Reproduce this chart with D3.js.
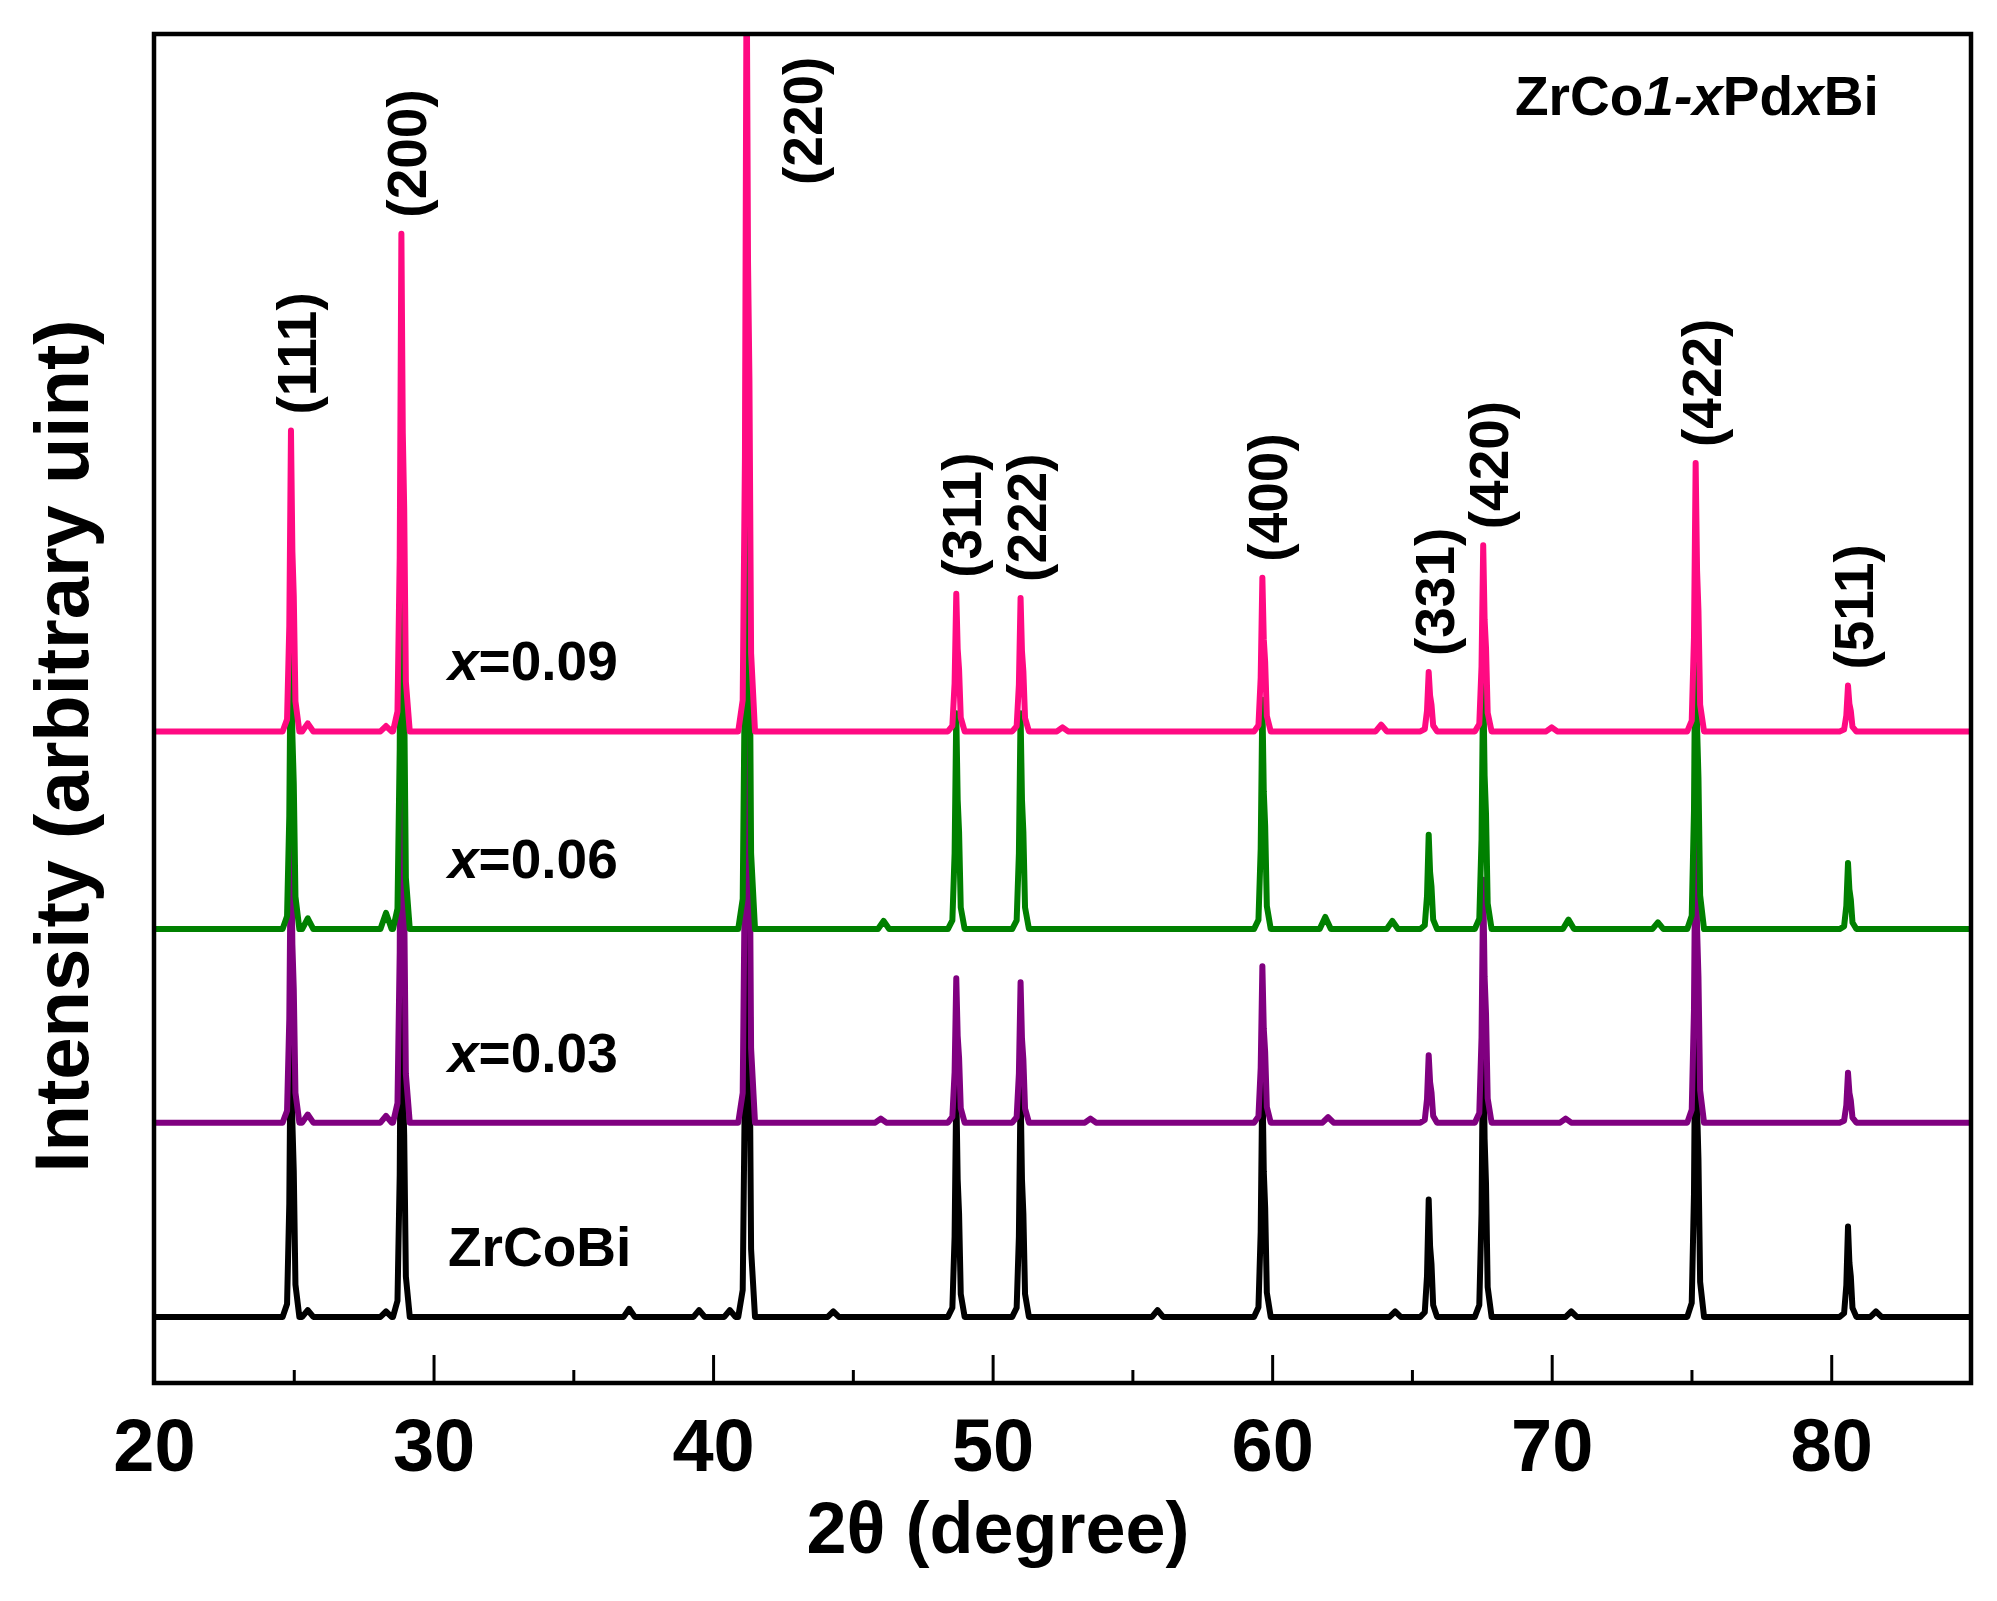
<!DOCTYPE html>
<html>
<head>
<meta charset="utf-8">
<script src="https://cdn.jsdelivr.net/npm/d3@7"></script>
<style>
  body { margin: 0; background: #fff; }
  text { font-family: "Liberation Sans", Arial, Helvetica, sans-serif; font-weight: bold; }
</style>
</head>
<body>
<svg id="chart" width="1997" height="1601"></svg>
<script>
// Reflections and their 2theta positions (degree)
var hklLabels = ["(111)", "(200)", "(220)", "(311)", "(222)", "(400)", "(331)", "(420)", "(422)", "(511)"];
var peakPositions = [24.9, 28.85, 41.2, 48.7, 51.0, 59.65, 65.6, 67.55, 75.15, 80.6];

// Samples, bottom to top
var sampleNames = ["ZrCoBi", "x=0.03", "x=0.06", "x=0.09"];
var sampleColors = ["#000000", "#800080", "#008000", "#ff0a82"];
var sampleOffsets = [4.9, 19.3, 33.65, 48.3];

// peak heights above each baseline (arbitrary units)
var heightsZrCoBi = [24, 30, 50, 17, 17, 18, 8.7, 22, 26, 6.7];
var heightsX003 = [22, 36, 55, 10.7, 10.4, 11.6, 5.0, 18, 24, 3.7];
var heightsX006 = [24, 38, 56, 16, 16, 17, 7.0, 19, 25, 4.9];
var heightsX009 = [22.3, 36.9, 58, 10.2, 9.9, 11.4, 4.4, 13.8, 19.9, 3.4];

// small background bumps [2theta, height]
var bumpsZrCoBi = [[25.5, 0.5], [28.3, 0.4], [37.0, 0.6], [39.5, 0.5], [40.6, 0.5], [44.3, 0.4], [55.9, 0.5], [64.4, 0.4], [70.7, 0.4], [81.6, 0.4]];
var bumpsX003 = [[25.5, 0.6], [28.3, 0.5], [46.0, 0.3], [53.5, 0.3], [62.0, 0.4], [70.5, 0.3]];
var bumpsX006 = [[25.5, 0.8], [28.3, 1.2], [46.1, 0.6], [61.9, 0.9], [64.3, 0.6], [70.6, 0.7], [73.8, 0.5]];
var bumpsX009 = [[25.5, 0.6], [28.3, 0.4], [52.5, 0.3], [63.9, 0.5], [70.0, 0.3]];

var xTicks = [20, 30, 40, 50, 60, 70, 80];
var xMinorTicks = [25, 35, 45, 55, 65, 75];

var sampleHeights = [heightsZrCoBi, heightsX003, heightsX006, heightsX009];
var sampleBumps = [bumpsZrCoBi, bumpsX003, bumpsX006, bumpsX009];

// shape of one reflection, relative to its centre and height (Ka1 + Ka2 shoulder)
var peakShape = [[-0.3, 0], [-0.14, 0.04], [-0.06, 0.35], [0, 1], [0.05, 0.6], [0.1, 0.45], [0.16, 0.1], [0.3, 0]];
var bumpShape = [[-0.2, 0], [0, 1], [0.2, 0]];

var svg = d3.select("#chart");
var plotLeft = 154, plotRight = 1971, plotTop = 34, plotBottom = 1383;

var x = d3.scaleLinear().domain([20, 85]).range([plotLeft, plotRight]);
var y = d3.scaleLinear().domain([0, 100]).range([plotBottom, plotTop]);

svg.append("clipPath").attr("id", "plotArea")
  .append("rect")
  .attr("x", plotLeft).attr("y", plotTop)
  .attr("width", plotRight - plotLeft).attr("height", plotBottom - plotTop);

function tracePoints(offset, heights, bumps) {
  var pts = [];
  peakPositions.forEach(function(p, i) {
    peakShape.forEach(function(s) {
      pts.push([p + s[0], offset + heights[i] * s[1]]);
    });
  });
  bumps.forEach(function(b) {
    bumpShape.forEach(function(s) {
      pts.push([b[0] + s[0], offset + b[1] * s[1]]);
    });
  });
  pts.sort(function(a, b) { return a[0] - b[0]; });
  return [[20, offset]].concat(pts, [[85, offset]]);
}

var line = d3.line()
  .x(function(d) { return x(d[0]); })
  .y(function(d) { return y(d[1]); });

// Draw the patterns, lowest first so upper ones cover
var traces = svg.append("g").attr("clip-path", "url(#plotArea)");
sampleNames.forEach(function(name, i) {
  traces.append("path")
    .datum(tracePoints(sampleOffsets[i], sampleHeights[i], sampleBumps[i]))
    .attr("d", line)
    .attr("fill", "none")
    .attr("stroke", sampleColors[i])
    .attr("stroke-width", 6)
    .attr("stroke-linejoin", "round");
});

// Sample labels
sampleNames.forEach(function(name, i) {
  var t = svg.append("text")
    .attr("x", 448)
    .attr("y", y(sampleOffsets[i]) - 51)
    .attr("font-size", 55);
  if (name.indexOf("x=") === 0) {
    t.append("tspan").attr("font-style", "italic").text("x");
    t.append("tspan").text(name.slice(1));
  } else {
    t.text(name);
  }
});

// hkl labels above the top pattern
var topHeights = sampleHeights[3];
var topOffset = sampleOffsets[3];
hklLabels.forEach(function(lab, i) {
  var px = x(peakPositions[i]);
  var py = y(topOffset + topHeights[i]);
  var lx, ly;
  if (py < plotTop) { // peak runs off the frame: label beside it
    lx = px + 75;
    ly = plotTop + 151;
  } else {
    lx = px + 25;
    ly = py - 16;
  }
  svg.append("text")
    .attr("transform", "translate(" + lx + "," + ly + ") rotate(-90)")
    .attr("font-size", 55)
    .text(lab);
});

// Composition label
var comp = svg.append("text").attr("x", 1515).attr("y", 115).attr("font-size", 55);
comp.append("tspan").text("ZrCo");
comp.append("tspan").attr("font-style", "italic").text("1-x");
comp.append("tspan").text("Pd");
comp.append("tspan").attr("font-style", "italic").text("x");
comp.append("tspan").text("Bi");

// X axis, ticks pointing inward
var xAxis = d3.axisBottom(x)
  .tickValues(xTicks)
  .tickSize(-28)
  .tickPadding(35)
  .tickFormat(d3.format("d"));

var gx = svg.append("g")
  .attr("transform", "translate(0," + plotBottom + ")")
  .call(xAxis);
gx.select(".domain").remove();
gx.selectAll(".tick line").attr("stroke-width", 3);
gx.selectAll(".tick text")
  .attr("font-size", 74)
  .attr("font-family", "'Liberation Sans', Arial, sans-serif")
  .attr("font-weight", "bold")
  .attr("fill", "#000");

var gxMinor = svg.append("g")
  .attr("transform", "translate(0," + plotBottom + ")")
  .call(d3.axisBottom(x).tickValues(xMinorTicks).tickSize(-13).tickFormat(""));
gxMinor.select(".domain").remove();
gxMinor.selectAll(".tick line").attr("stroke-width", 3);

// Frame
svg.append("rect")
  .attr("x", plotLeft).attr("y", plotTop)
  .attr("width", plotRight - plotLeft).attr("height", plotBottom - plotTop)
  .attr("fill", "none")
  .attr("stroke", "#000")
  .attr("stroke-width", 4.5);

// Axis titles
svg.append("text")
  .attr("x", 998)
  .attr("y", 1553)
  .attr("text-anchor", "middle")
  .attr("font-size", 72)
  .text("2\u03b8 (degree)");

svg.append("text")
  .attr("transform", "translate(88,746) rotate(-90)")
  .attr("text-anchor", "middle")
  .attr("font-size", 76)
  .text("Intensity (arbitrary uint)");
</script>
</body>
</html>
